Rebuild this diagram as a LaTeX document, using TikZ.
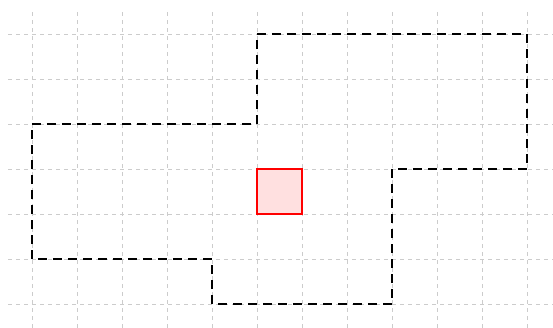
\documentclass[tikz,border=0pt]{standalone}
\usepackage{xcolor}
\usepackage{tikz}
\usetikzlibrary{calc}

\begin{document}
\begin{tikzpicture}[x=45pt*0.75,y=45pt*0.75]
  \tikzstyle{gridline}=[gray!40,dashed,line width=0.6pt]
  \tikzstyle{region}=[black,line width=1.4pt,dash pattern=on 6.5pt off 4.75pt]
  \tikzstyle{cell}=[draw=red,fill=red!12,line width=1.3pt]
  \useasboundingbox (-0.711,-0.533) rectangle (11.578,6.756);
  \foreach \x in {0,...,11}
    \draw[gridline] (\x,-0.533) -- (\x,6.578);
  \foreach \y in {0,...,6}
    \draw[gridline] (-0.533,\y) -- (11.578,\y);
  \draw[region] (5,6) -- (11,6) -- (11,3) -- (8,3) -- (8,0) -- (4,0)
    -- (4,1) -- (0,1) -- (0,4) -- (5,4) -- cycle;
  \draw[cell] (5,2) rectangle (6,3);
\end{tikzpicture}
\end{document}
